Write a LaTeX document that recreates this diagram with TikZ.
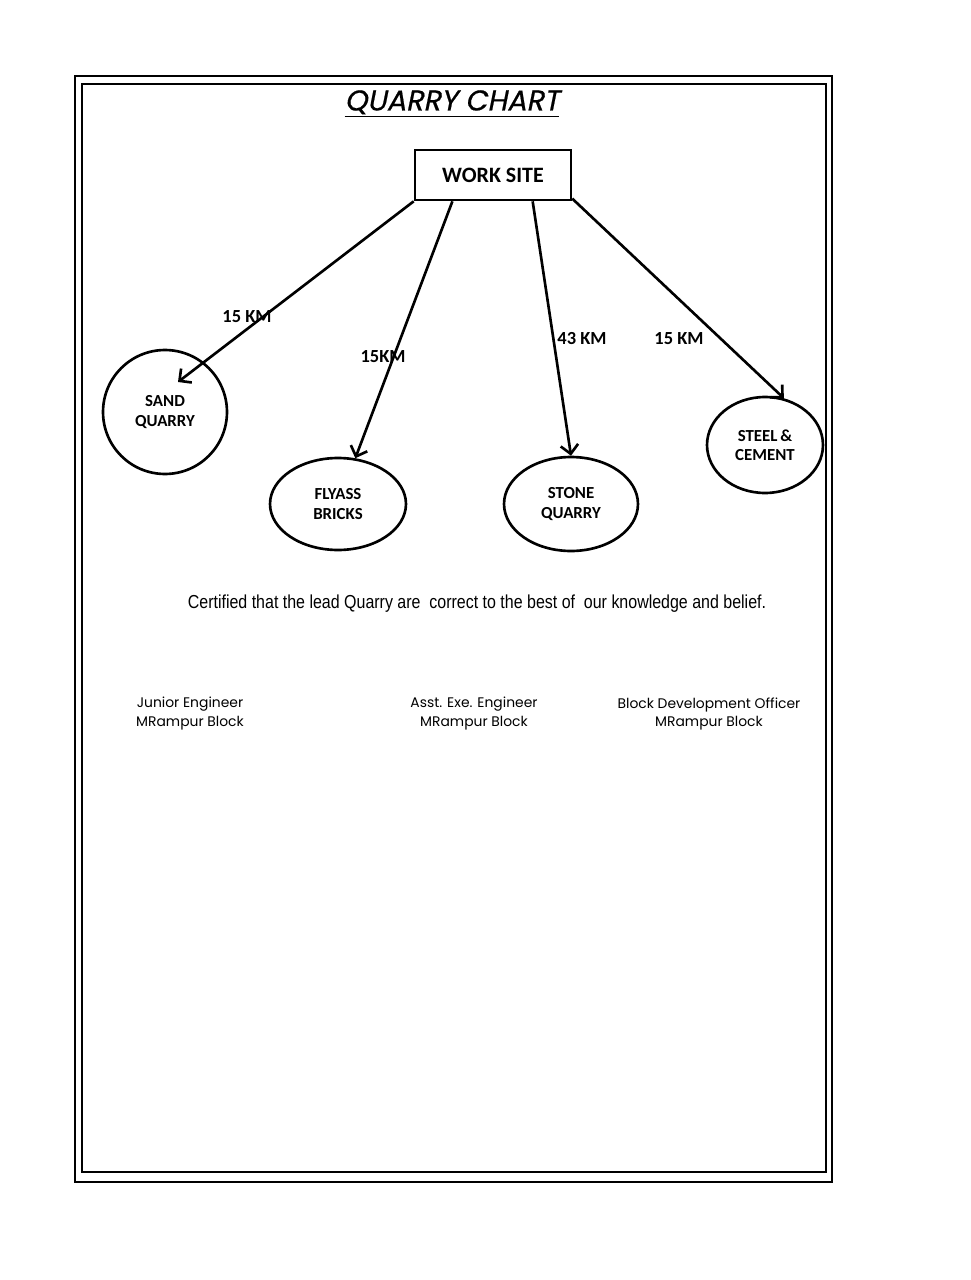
\documentclass[tikz,border=0pt]{standalone}
\usepackage{fontspec}
\setmainfont{Carlito}
\newfontfamily\titlefont[FakeSlant=0.2, FakeBold=0.6]{Poppins}
\newfontfamily\signfont{Poppins}
\newfontfamily\certfont[FakeStretch=0.85]{Liberation Sans}
\usetikzlibrary{arrows.meta,shapes.geometric,calc}

\tikzset{
  site/.style={draw, line width=1.5pt, minimum width=3.12cm, minimum height=1cm, inner sep=0pt,
    font=\bfseries\fontsize{12.5}{14}\selectfont},
  quarry/.style={draw, ellipse, line width=1.5pt, inner sep=0pt, align=center,
    font=\bfseries\fontsize{9.6}{11}\selectfont},
  dist/.style={inner sep=0pt, font=\bfseries\fontsize{10.5}{12}\selectfont},
  lead/.style={-{Straight Barb[length=5pt,width=10pt]}, line width=1.5pt},
  sign/.style={inner sep=0pt, align=center, font=\signfont\fontsize{7.9}{10.8}\selectfont},
}

\begin{document}
\begin{tikzpicture}[x=0.02cm, y=-0.02cm]
  \useasboundingbox (0,0) rectangle (970,1280);
  % page frame
  \draw[line width=0.8pt] (75,76) rectangle (832,1182);
  \draw[line width=0.8pt] (82,84) rectangle (826,1172);

  \node[inner sep=0pt, font=\titlefont\fontsize{16.3}{18}\selectfont] (title) at (452,104) {\underline{QUARRY CHART}};

  \node[site] (ws) at (493,175) {WORK SITE};

  \node[quarry, circle, minimum size=2.48cm] (sand) at (165,412) {SAND\\QUARRY};
  \node[quarry, minimum width=2.72cm, minimum height=1.84cm] (fly) at (338,504) {FLYASS\\BRICKS};
  \node[quarry, minimum width=2.68cm, minimum height=1.88cm] (stone) at (571,504) {STONE\\QUARRY};
  \node[quarry, minimum width=2.32cm, minimum height=1.92cm] (steel) at (765,445) {STEEL\,\&\\CEMENT};
  \coordinate (sandtip) at (178,382);

  % leads from the site
  \draw[lead] (ws.south west) -- (sandtip);
  \draw[lead] ($(ws.south west)!0.244!(ws.south east)$) -- (fly);
  \draw[lead] ($(ws.south west)!0.75!(ws.south east)$) -- (stone.north);
  \draw[lead] ([yshift=1.5pt]ws.south east) -- (steel.68);

  \node[dist] (d1) at (247,317) {15 KM};
  \node[dist] (d2) at (383,357) {15KM};
  \node[dist] (d3) at (582,339) {43 KM};
  \node[dist] (d4) at (679,339) {15 KM};

  \node[inner sep=0pt, font=\certfont\fontsize{10.7}{12}\selectfont] (cert) at (477,604)
    {Certified that the lead Quarry are\ \ correct to the best of\ \ our knowledge and belief.};

  \node[sign] (je) at (190,714) {Junior Engineer\\MRampur Block};
  \node[sign] (aee) at (474,714) {Asst. Exe. Engineer\\MRampur Block};
  \node[sign] (bdo) at (709,714) {Block Development Officer\\MRampur Block};
\end{tikzpicture}
\end{document}
